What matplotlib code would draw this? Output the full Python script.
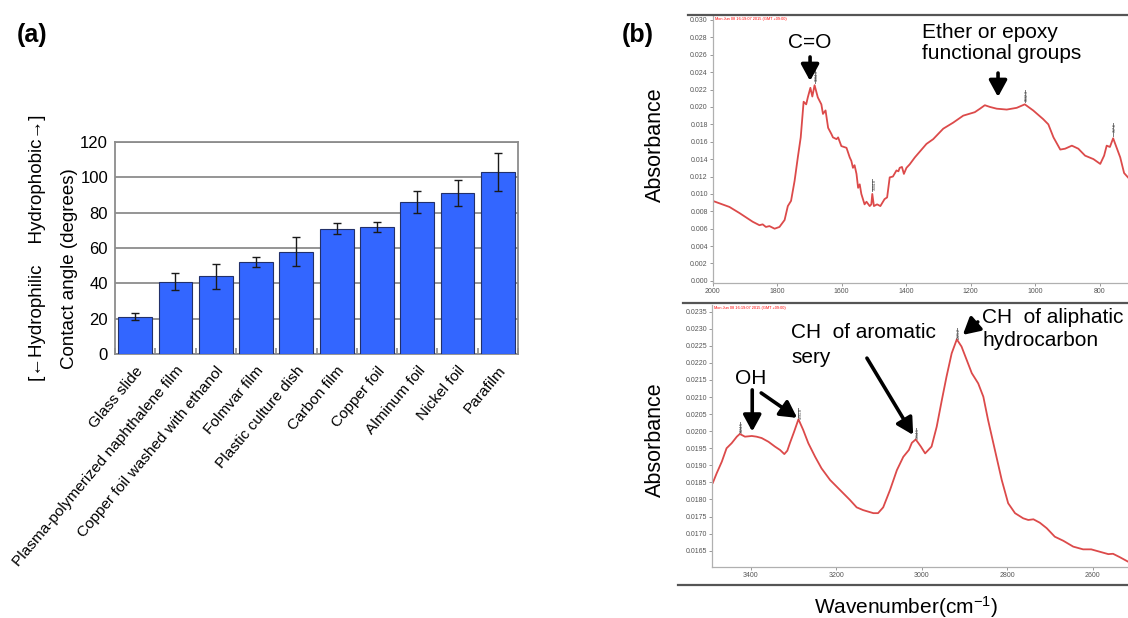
import numpy as np
import matplotlib
matplotlib.use("Agg")
import matplotlib.pyplot as plt

plt.rcParams["font.family"] = ["Liberation Sans", "DejaVu Sans"]
plt.rcParams["mathtext.default"] = "regular"

# ---------------- data ----------------
materials = [
    "Glass slide",
    "Plasma-polymerized naphthalene film",
    "Copper foil washed with ethanol",
    "Folmvar film",
    "Plastic culture dish",
    "Carbon film",
    "Copper foil",
    "Alminum foil",
    "Nickel foil",
    "Parafilm",
]
contact_angle = [21, 41, 44, 52, 58, 71, 72, 86, 91, 103]
angle_err = [2, 5, 7, 3, 8, 3, 3, 6, 7.5, 11]

# fingerprint region spectrum (2000 -> 712 cm-1)
fp_wavenumber = [
    2000, 1948, 1917, 1876, 1855, 1845, 1835, 1824, 1808, 1793, 1777, 1767,
    1757, 1746, 1736, 1727, 1718, 1710, 1705, 1697, 1691, 1684, 1674, 1663,
    1658, 1650, 1642, 1632, 1627, 1616, 1611, 1601, 1585, 1575, 1570, 1565,
    1560, 1554, 1549, 1544, 1539, 1529, 1523, 1513, 1508, 1505, 1500, 1490,
    1480, 1467, 1459, 1451, 1441, 1430, 1424, 1420, 1413, 1407, 1399, 1389,
    1373, 1337, 1316, 1285, 1254, 1223, 1187, 1171, 1156, 1140, 1119, 1088,
    1057, 1032, 1006, 975, 959, 943, 922, 907, 886, 866, 845, 819, 798, 786,
    778, 768, 758, 736, 724, 712,
]
fp_absorbance = [
    0.0092, 0.0085, 0.0078, 0.0068, 0.0064, 0.0065, 0.0062, 0.0063, 0.0060,
    0.0062, 0.0070, 0.0086, 0.0092, 0.0115, 0.0142, 0.0165, 0.0206, 0.0203,
    0.0211, 0.0222, 0.0212, 0.0225, 0.0211, 0.0203, 0.0192, 0.0196, 0.0176,
    0.0169, 0.0165, 0.0163, 0.0165, 0.0155, 0.0153, 0.0142, 0.0138, 0.0130,
    0.0133, 0.0123, 0.0107, 0.0111, 0.0100, 0.0088, 0.0091, 0.0086, 0.0088,
    0.0100, 0.0086, 0.0088, 0.0086, 0.0094, 0.0096, 0.0119, 0.0120, 0.0127,
    0.0126, 0.0130, 0.0131, 0.0123, 0.0130, 0.0134, 0.0142, 0.01575, 0.0163,
    0.0175, 0.0182, 0.0190, 0.0194, 0.0198, 0.0202, 0.0200, 0.0198, 0.0197,
    0.0199, 0.0203, 0.0196, 0.0186, 0.0180, 0.0165, 0.0151, 0.0152, 0.01555,
    0.0152, 0.0144, 0.0140, 0.01345, 0.0144, 0.01555, 0.0154, 0.0164, 0.0142,
    0.0124, 0.0119,
]
fp_peaks = [(1684, "1684.3"), (1505, "1504.8"), (1032, "1032.3"), (758, "757.6")]

# C-H / O-H stretching region spectrum (3488 -> 2518 cm-1)
ch_wavenumber = [
    3488, 3479, 3467, 3456, 3444, 3432, 3425, 3413, 3397, 3386, 3374, 3358,
    3343, 3331, 3321, 3314, 3308, 3298, 3288, 3277, 3265, 3249, 3234, 3214,
    3191, 3168, 3152, 3137, 3113, 3102, 3090, 3074, 3058, 3043, 3030, 3023,
    3014, 3002, 2992, 2977, 2965, 2953, 2942, 2930, 2918, 2907, 2895, 2883,
    2868, 2856, 2845, 2829, 2813, 2798, 2782, 2763, 2751, 2739, 2724, 2708,
    2689, 2669, 2646, 2623, 2604, 2584, 2564, 2553, 2537, 2518,
]
ch_absorbance = [
    0.01849, 0.01877, 0.01911, 0.01950, 0.01965, 0.01984, 0.01992, 0.01984,
    0.01986, 0.01984, 0.01980, 0.01969, 0.01955, 0.01945, 0.01933, 0.01943,
    0.01965, 0.01999, 0.02035, 0.02004, 0.01965, 0.01925, 0.01891, 0.01857,
    0.01828, 0.01799, 0.01777, 0.01769, 0.01760, 0.01760, 0.01777, 0.01828,
    0.01886, 0.01925, 0.01945, 0.01966, 0.01976, 0.01955, 0.01935, 0.01955,
    0.02013, 0.02091, 0.02160, 0.02228, 0.02269, 0.02248, 0.02209, 0.02170,
    0.02140, 0.02101, 0.02033, 0.01945, 0.01857, 0.01789, 0.01760, 0.01745,
    0.01740, 0.01742, 0.01732, 0.01716, 0.01691, 0.01679, 0.01662, 0.01654,
    0.01654, 0.01647, 0.01640, 0.01641, 0.01631, 0.01618,
]
ch_peaks = [(3425, "3424.5"), (3288, "3291.8"), (3014, "3014.1"), (2918, "2921.2")]

fp_yticks = np.round(np.arange(0.0, 0.0301, 0.002), 3)
ch_yticks = np.round(np.arange(0.0165, 0.02351, 0.0005), 4)
fp_xticks = [2000, 1800, 1600, 1400, 1200, 1000, 800]
ch_xticks = [3400, 3200, 3000, 2800, 2600]

# ---------------- layout helpers ----------------
W, H = 1128, 618
fig = plt.figure(figsize=(W / 100, H / 100), dpi=100)


def box(left, top, right, bottom):
    return [left / W, 1 - bottom / H, (right - left) / W, (bottom - top) / H]


def ftext(x, y, s, **kw):
    fig.text(x / W, 1 - y / H, s, **kw)


def hline(x0, x1, y, **kw):
    fig.add_artist(plt.Line2D([x0 / W, x1 / W], [1 - y / H, 1 - y / H],
                              transform=fig.transFigure, **kw))


# ---------------- panel (a) ----------------
ax = fig.add_axes(box(115, 142, 518, 354))
x = np.arange(len(materials))
ax.bar(x, contact_angle, width=0.84, color="#3366ff", edgecolor="#22306a",
       linewidth=0.8, zorder=3)
ax.errorbar(x, contact_angle, yerr=angle_err, fmt="none", ecolor="#1a1a1a",
            elinewidth=1.0, capsize=3.2, capthick=1.0, zorder=4)
ax.set_xlim(-0.5, len(materials) - 0.5)
ax.set_ylim(0, 120)
ax.set_yticks(range(0, 121, 20))
ax.yaxis.grid(True, color="#8c8c8c", lw=1.3)
ax.set_axisbelow(True)
for s in ax.spines.values():
    s.set_color("#8c8c8c")
    s.set_linewidth(1.3)
ax.tick_params(axis="y", length=0, labelsize=12, pad=5)
ax.set_xticks(x)
ax.set_xticklabels(materials, rotation=50, ha="right", rotation_mode="anchor",
                   fontsize=11.1)
ax.tick_params(axis="x", which="major", length=0, pad=7)
ax.set_xticks(np.arange(-0.5, len(materials), 1.0), minor=True)
ax.tick_params(axis="x", which="minor", direction="in", length=4,
               color="#8c8c8c", width=1.2)

ftext(69, 269, "Contact angle (degrees)", rotation=90, ha="center",
      va="center", fontsize=13.5)
ftext(38, 248, "[\u2190Hydrophilic    Hydrophobic\u2192]", rotation=90,
      ha="center", va="center", fontsize=13.5)
ftext(17, 35, "(a)", fontsize=18, fontweight="bold", ha="left", va="center")

# ---------------- panel (b) ----------------
ftext(622, 35, "(b)", fontsize=18, fontweight="bold", ha="left", va="center")

red = "#dc4a4a"
tick_col = "#555555"


def style_spectrum(axs, xticks, yticks, yfmt):
    for side in ("top", "right"):
        axs.spines[side].set_visible(False)
    for side in ("left", "bottom"):
        axs.spines[side].set_color("#b0b0b0")
        axs.spines[side].set_linewidth(0.9)
    axs.set_xticks(xticks)
    axs.set_yticks(yticks)
    axs.set_yticklabels([yfmt.format(v) for v in yticks])
    axs.tick_params(length=2, width=0.6, color="#888888", labelsize=5,
                    labelcolor=tick_col, pad=1.5)
    axs.text(0.006, 0.997, "Mon Jun 08 16:19:07 2015 (GMT +09:00)",
             transform=axs.transAxes, fontsize=2.8, color="red", va="top")


def mark_peaks(axs, wn, ab, peaks, gap, length):
    wn_a = np.asarray(wn)[::-1]
    ab_a = np.asarray(ab)[::-1]
    for pos, lab in peaks:
        yv = np.interp(pos, wn_a, ab_a)
        axs.plot([pos, pos], [yv + gap, yv + gap + length], color="#777777",
                 lw=0.7)
        axs.text(pos, yv + gap + length, lab, rotation=90, fontsize=2.6,
                 color="#333333", ha="left", va="top")


arrow_kw = dict(arrowstyle="-|>,head_length=0.55,head_width=0.3", lw=2.6,
                color="black", mutation_scale=18, shrinkA=0, shrinkB=0)

# upper spectrum
ax1 = fig.add_axes(box(712.7, 16, 1128, 283.3))
ax1.plot(fp_wavenumber, fp_absorbance, color=red, lw=1.3)
ax1.set_xlim(2000, 711.9)
ax1.set_ylim(-0.00028, 0.03046)
style_spectrum(ax1, fp_xticks, fp_yticks, "{:.3f}")
mark_peaks(ax1, fp_wavenumber, fp_absorbance, fp_peaks, 0.0003, 0.0014)
ax1.text(1700, 0.02736, "C=O", ha="center", va="center", fontsize=15)
ax1.annotate("", xy=(1698, 0.02299), xytext=(1698, 0.02575),
             arrowprops=arrow_kw)
ax1.text(1351, 0.02854, "Ether or epoxy", ha="left", va="center", fontsize=15)
ax1.text(1351, 0.02617, "functional groups", ha="left", va="center",
         fontsize=15)
ax1.annotate("", xy=(1115, 0.02115), xytext=(1115, 0.0239),
             arrowprops=arrow_kw)

# lower spectrum
ax2 = fig.add_axes(box(712, 305, 1128, 567))
ax2.plot(ch_wavenumber, ch_absorbance, color=red, lw=1.3)
ax2.set_xlim(3490, 2518)
ax2.set_ylim(0.016023, 0.023696)
style_spectrum(ax2, ch_xticks, ch_yticks, "{:.4f}")
mark_peaks(ax2, ch_wavenumber, ch_absorbance, ch_peaks, 0.00006, 0.00028)
ax2.text(3399, 0.02153, "OH", ha="center", va="center", fontsize=15)
ax2.annotate("", xy=(3396, 0.01999), xytext=(3396, 0.02121),
             arrowprops=arrow_kw)
ax2.annotate("", xy=(3291, 0.02039), xytext=(3375, 0.02112),
             arrowprops=arrow_kw)
ax2.text(3305, 0.02288, "CH  of aromatic", ha="left", va="center", fontsize=15)
ax2.text(3305, 0.02217, "sery", ha="left", va="center", fontsize=15)
ax2.annotate("", xy=(3020, 0.01989), xytext=(3128, 0.02214),
             arrowprops=arrow_kw)
ax2.text(2859, 0.02334, "CH  of aliphatic", ha="left", va="center",
         fontsize=15)
ax2.text(2859, 0.02267, "hydrocarbon", ha="left", va="center", fontsize=15)
ax2.annotate("", xy=(2904, 0.02282), xytext=(2869, 0.0232),
             arrowprops=arrow_kw)

# frame lines of the spectrum panels
hline(688, 1128, 15, color="#555555", lw=1.6)
hline(683, 1128, 303, color="#555555", lw=1.6)
hline(678, 1128, 585, color="#555555", lw=1.6)

ftext(655, 145, "Absorbance", rotation=90, ha="center", va="center",
      fontsize=15.5)
ftext(655, 440, "Absorbance", rotation=90, ha="center", va="center",
      fontsize=15.5)
ftext(906, 607, "Wavenumber(cm$^{-1}$)", ha="center", va="center",
      fontsize=15)

fig.savefig("out.png", dpi=100)
